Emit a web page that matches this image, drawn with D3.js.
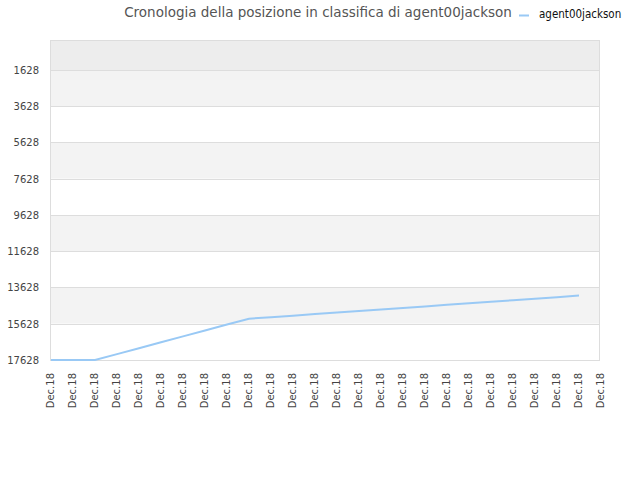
<!DOCTYPE html>
<html><head><meta charset="utf-8">
<script src="https://cdn.jsdelivr.net/npm/d3@7"></script>
<style>body{margin:0;background:#fff;}</style>
</head><body>
<svg id="c" width="640" height="480"></svg>
<script>
const categories = ["Dec.18","Dec.18","Dec.18","Dec.18","Dec.18","Dec.18","Dec.18","Dec.18","Dec.18","Dec.18","Dec.18","Dec.18","Dec.18","Dec.18","Dec.18","Dec.18","Dec.18","Dec.18","Dec.18","Dec.18","Dec.18","Dec.18","Dec.18","Dec.18","Dec.18","Dec.18"];
const rankValues = [17628,17628,17628,17302,16976,16650,16324,15998,15672,15350,15265,15180,15095,15010,14925,14840,14755,14670,14585,14500,14415,14330,14245,14160,14075];
const yTicks = [1628,3628,5628,7628,9628,11628,13628,15628,17628];
const seriesName = "agent00jackson";
const title = "Cronologia della posizione in classifica di agent00jackson";

const svg = d3.select("#c");
const L=50, R=600, T=40, B=360;
const x = d3.scalePoint().domain(d3.range(categories.length)).range([L,R]);
const y = d3.scaleLinear().domain([-27,17628]).range([T,B]);

// bands
const bandEdges = [T, ...yTicks.map(v=>y(v))];
for (let i=0;i<bandEdges.length-1;i++){
  const fill = i===0 ? "#ededed" : (i%2===1 ? "#f3f3f3" : "#ffffff");
  svg.append("rect").attr("x",L).attr("y",bandEdges[i]).attr("width",R-L).attr("height",bandEdges[i+1]-bandEdges[i]).attr("fill",fill);
}
// gridlines
svg.append("g").selectAll("line").data(yTicks).join("line")
  .attr("x1",L).attr("x2",R).attr("y1",d=>Math.round(y(d))+0.5).attr("y2",d=>Math.round(y(d))+0.5)
  .attr("stroke","#dddddd");
// border
svg.append("rect").attr("x",L+0.5).attr("y",T+0.5).attr("width",R-L-1).attr("height",B-T).attr("fill","none").attr("stroke","#dddddd");

// y labels
svg.append("g").selectAll("text").data(yTicks).join("text")
  .attr("x",39).attr("y",d=>y(d)+4).attr("text-anchor","end")
  .attr("font-family","DejaVu Sans").attr("font-size",10).attr("fill","#444")
  .text(d=>d);

// x labels
svg.append("g").selectAll("text").data(categories.map((c,i)=>({c,i}))).join("text")
  .attr("transform",d=>`translate(${x(d.i)+4},${B+13}) rotate(-90)`)
  .attr("text-anchor","end")
  .attr("font-family","DejaVu Sans").attr("font-size",10).attr("fill","#444")
  .text(d=>d.c);

// line
const line = d3.line().x((d,i)=>x(i)+1).y(d=>y(d));
svg.append("path").datum(rankValues).attr("d",line)
  .attr("fill","none").attr("stroke","#99c9f5").attr("stroke-width",2);

// title
svg.append("text").attr("x",318).attr("y",17).attr("text-anchor","middle")
  .attr("font-family","DejaVu Sans").attr("font-size",13.5).attr("fill","#555")
  .text(title);
// legend
svg.append("line").attr("x1",519).attr("x2",529).attr("y1",15.5).attr("y2",15.5).attr("stroke","#99c9f5").attr("stroke-width",2);
svg.append("text").attr("x",539).attr("y",18).attr("font-family","DejaVu Sans Condensed, DejaVu Sans").attr("font-size",11.5).attr("fill","#111")
  .text(seriesName);
</script>
</body></html>
